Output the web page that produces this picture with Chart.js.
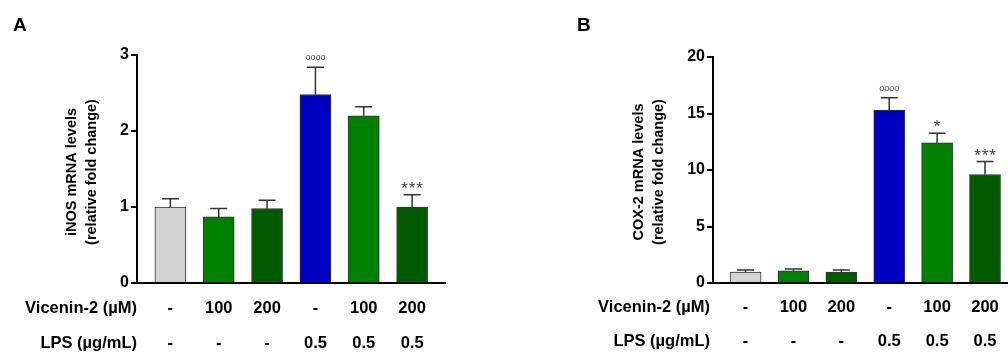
<!DOCTYPE html>
<html>
<head>
<meta charset="utf-8">
<script src="https://cdn.jsdelivr.net/npm/chart.js@4"></script>
<style>
    html, body { margin: 0; padding: 0; background: #fff; }
    #wrap { position: relative; width: 1008px; height: 352px; overflow: hidden; }
    .panel { position: absolute; top: 0; width: 504px; height: 352px; }
</style>
</head>
<body>
<div id="wrap">
    <div class="panel" style="left:0"><canvas id="inos" width="504" height="352"></canvas></div>
    <div class="panel" style="left:504px"><canvas id="cox2" width="504" height="352"></canvas></div>
</div>
<script>
// treatment rows under the bars
const vicenin = ['-', '100', '200', '-', '100', '200'];
const lps = ['-', '-', '-', '0.5', '0.5', '0.5'];
const barColors = ['#d3d3d3', '#008000', '#005a00', '#0000c0', '#008000', '#005a00'];

// A: iNOS
const inosMean = [1.0, 0.87, 0.98, 2.48, 2.2, 1.0];
const inosSem = [0.11, 0.11, 0.11, 0.36, 0.12, 0.16];
const inosMarks = ['', '', '', 'oooo', '', '***'];
const inosTicks = [0, 1, 2, 3];

// B: COX-2
const cox2Mean = [0.97, 1.08, 0.97, 15.3, 12.4, 9.6];
const cox2Sem = [0.19, 0.17, 0.18, 1.1, 0.85, 1.15];
const cox2Marks = ['', '', '', 'oooo', '*', '***'];
const cox2Ticks = [0, 5, 10, 15, 20];

Chart.defaults.font.family = '"Liberation Sans", Arial, sans-serif';
Chart.defaults.color = '#000';

function drawMark(ctx, mark, px, base) {
    if (mark === 'oooo') {
        ctx.font = '9px "Liberation Sans"';
        ctx.fillText(mark, px, base - 7);
        return;
    }
    // stars spaced like the figure
    ctx.font = '17px "Liberation Sans"';
    const n = mark.length;
    for (let k = 0; k < n; k++) {
        ctx.fillText('*', px + (k - (n - 1) / 2) * 7.5, base - 1);
    }
}

function extras(cfg) {
    return {
        id: 'extras',
        afterDatasetsDraw(chart) {
            const ctx = chart.ctx, x = chart.scales.x, y = chart.scales.y;
            ctx.save();
            ctx.strokeStyle = '#333';
            ctx.lineWidth = 1.5;
            cfg.mean.forEach(function (m, i) {
                const px = x.getPixelForValue(i);
                const top = y.getPixelForValue(m);
                const hi = y.getPixelForValue(m + cfg.sem[i]);
                ctx.beginPath();
                ctx.moveTo(px, top);
                ctx.lineTo(px, hi);
                ctx.moveTo(px - 8.5, hi);
                ctx.lineTo(px + 8.5, hi);
                ctx.stroke();
                if (cfg.marks[i]) {
                    ctx.fillStyle = '#444';
                    ctx.textAlign = 'center';
                    ctx.textBaseline = 'alphabetic';
                    drawMark(ctx, cfg.marks[i], px, hi);
                }
            });
            ctx.restore();
        },
        afterDraw(chart) {
            const ctx = chart.ctx, x = chart.scales.x;
            ctx.save();
            ctx.fillStyle = '#000';
            // panel letter
            ctx.font = 'bold 19px "Liberation Sans"';
            ctx.textAlign = 'left';
            ctx.textBaseline = 'alphabetic';
            ctx.fillText(cfg.letter, cfg.letterX, 31);
            // y title
            ctx.font = 'bold 14.5px "Liberation Sans"';
            ctx.textAlign = 'center';
            ctx.textBaseline = 'middle';
            cfg.title.forEach(function (t, k) {
                ctx.save();
                ctx.translate(cfg.titleX + k * 20, 172);
                ctx.rotate(-Math.PI / 2);
                ctx.fillText(t, 0, 0);
                ctx.restore();
            });
            // treatment rows
            ctx.font = 'bold 16.5px "Liberation Sans"';
            ctx.textAlign = 'right';
            ctx.fillText('Vicenin-2 (\u00b5M)', cfg.rowX, cfg.rowY[0]);
            ctx.fillText('LPS (\u00b5g/mL)', cfg.rowX, cfg.rowY[1]);
            ctx.textAlign = 'center';
            vicenin.forEach(function (v, i) {
                ctx.fillText(v, x.getPixelForValue(i), cfg.rowY[0]);
                ctx.fillText(lps[i], x.getPixelForValue(i), cfg.rowY[1]);
            });
            ctx.restore();
        }
    };
}

function makeChart(id, mean, ticks, xmin, xmax, pad, cfg) {
    return new Chart(document.getElementById(id), {
        type: 'bar',
        data: {
            datasets: [{
                data: mean.map(function (v, i) { return {x: i, y: v}; }),
                backgroundColor: barColors,
                borderColor: '#333',
                borderWidth: 1,
                barThickness: 31
            }]
        },
        options: {
            responsive: false,
            animation: false,
            devicePixelRatio: 1,
            layout: {padding: pad},
            plugins: {legend: {display: false}, tooltip: {enabled: false}},
            scales: {
                x: {
                    type: 'linear',
                    offset: false,
                    min: xmin,
                    max: xmax,
                    ticks: {display: false},
                    grid: {drawOnChartArea: false, drawTicks: false},
                    border: {color: '#000', width: 2},
                    afterFit: function (s) { s.height = 0; }
                },
                y: {
                    min: ticks[0],
                    max: ticks[ticks.length - 1],
                    afterBuildTicks: function (s) { s.ticks = ticks.map(function (v) { return {value: v}; }); },
                    ticks: {font: {size: 16, weight: 'bold'}, color: '#000', padding: 2},
                    grid: {drawOnChartArea: false, tickLength: 6, color: '#000', lineWidth: 2},
                    border: {color: '#000', width: 2},
                    afterFit: function (s) { s.width = 30; }
                }
            }
        },
        plugins: [extras(cfg)]
    });
}

makeChart('inos', inosMean, inosTicks, -0.69, 5.68,
    {left: 107, right: 59, top: 55, bottom: 69},
    {mean: inosMean, sem: inosSem, marks: inosMarks, letter: 'A', letterX: 13,
     title: ['iNOS mRNA levels', '(relative fold change)'], titleX: 72,
     rowX: 137, rowY: [308, 343]});

makeChart('cox2', cox2Mean, cox2Ticks, -0.68, 5.48,
    {left: 179, right: 0, top: 57, bottom: 69},
    {mean: cox2Mean, sem: cox2Sem, marks: cox2Marks, letter: 'B', letterX: 73,
     title: ['COX-2 mRNA levels', '(relative fold change)'], titleX: 135,
     rowX: 206, rowY: [307, 341]});
</script>
</body>
</html>
